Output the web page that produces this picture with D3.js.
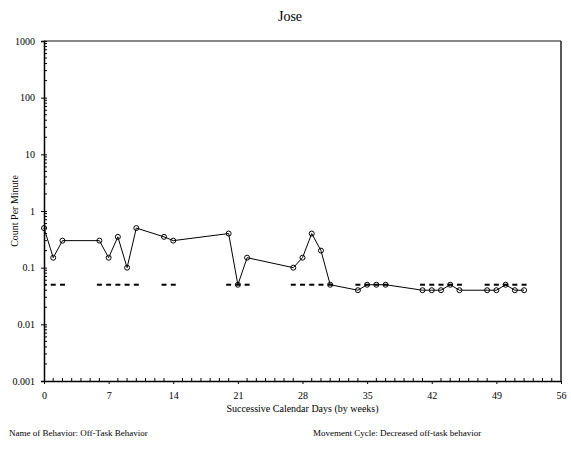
<!DOCTYPE html>
<html>
<head>
<meta charset="utf-8">
<script src="https://cdn.jsdelivr.net/npm/d3@7"></script>
<style>
  body { margin: 0; background: #fff; }
  svg text { font-family: "Liberation Serif", "DejaVu Serif", serif; fill: #000; }
</style>
</head>
<body>
<div id="chart"></div>
<script>
const width = 571;
const height = 453;
const margin = ({top: 41, right: 9, bottom: 72, left: 44});

// data
const days = [0, 1, 2, 6, 7, 8, 9, 10, 13, 14, 20, 21, 22, 27, 28, 29, 30, 31,
  34, 35, 36, 37, 41, 42, 43, 44, 45, 48, 49, 50, 51, 52];
const counts = [0.5, 0.15, 0.3, 0.3, 0.15, 0.35, 0.1, 0.5, 0.35, 0.3, 0.4, 0.05, 0.15,
  0.1, 0.15, 0.4, 0.2, 0.05, 0.04, 0.05, 0.05, 0.05, 0.04, 0.04, 0.04, 0.05, 0.04,
  0.04, 0.04, 0.05, 0.04, 0.04];
const aim = 0.05;
const xTicks = [0, 7, 14, 21, 28, 35, 42, 49, 56];
const yTicks = [0.001, 0.01, 0.1, 1, 10, 100, 1000];

const data = days.map((d, i) => ({day: d, value: counts[i]}));

const svg = d3.select("#chart").append("svg")
  .attr("width", width)
  .attr("height", height);

const x = d3.scaleLinear()
  .domain([0, 56])
  .range([margin.left, width - margin.right - 1]);

const y = d3.scaleLog()
  .domain([0.001, 1000])
  .range([height - margin.bottom, margin.top]);

svg.append("defs").append("clipPath").attr("id", "plot")
  .append("rect")
  .attr("x", margin.left).attr("y", margin.top)
  .attr("width", x(56) - margin.left).attr("height", y(0.001) - margin.top);

// frame: grey top, dark right
svg.append("line")
  .attr("x1", x(0)).attr("x2", x(56))
  .attr("y1", y(1000)).attr("y2", y(1000))
  .attr("stroke", "#888").attr("stroke-width", 2);
svg.append("line")
  .attr("x1", x(56)).attr("x2", x(56))
  .attr("y1", y(1000)).attr("y2", y(0.001))
  .attr("stroke", "#222").attr("stroke-width", 1.5);

// y axis with log minor ticks
const minorY = [];
yTicks.slice(0, -1).forEach(t => { for (let k = 2; k <= 9; k++) minorY.push(t * k); });

const yAxis = g => g
  .attr("transform", `translate(${margin.left},0)`)
  .call(d3.axisLeft(y).tickValues(yTicks).tickFormat(d => d3.format("~g")(d)).tickSize(3).tickPadding(6))
  .call(g => g.select(".domain").attr("stroke-width", 1.5))
  .call(g => g.selectAll(".tick line").attr("x2", -3).attr("x1", 3))
  .call(g => g.selectAll(".tick text").attr("font-size", 10).attr("font-family", "Liberation Serif"))
  .call(g => g.append("g").selectAll("line")
    .data(minorY)
    .join("line")
      .attr("x1", 0).attr("x2", 3)
      .attr("y1", d => y(d)).attr("y2", d => y(d))
      .attr("stroke", "#000"));

const xAxis = g => g
  .attr("transform", `translate(0,${height - margin.bottom})`)
  .call(d3.axisBottom(x).tickValues(xTicks).tickFormat(d3.format("d")).tickSize(3).tickPadding(8).tickSizeOuter(0))
  .call(g => g.select(".domain").attr("stroke-width", 1.5))
  .call(g => g.selectAll(".tick text").attr("font-size", 10).attr("font-family", "Liberation Serif"))
  .call(g => g.append("g").selectAll("line")
    .data(d3.range(1, 56).filter(d => d % 7 !== 0))
    .join("line")
      .attr("x1", d => x(d)).attr("x2", d => x(d))
      .attr("y1", 0).attr("y2", -3)
      .attr("stroke", "#000"));

svg.append("g").call(xAxis);
svg.append("g").call(yAxis);

// aim marks
svg.append("g")
  .attr("clip-path", "url(#plot)")
  .selectAll("line")
  .data(data)
  .join("line")
    .attr("x1", d => x(d.day) - 2.5)
    .attr("x2", d => x(d.day) + 2.5)
    .attr("y1", y(aim)).attr("y2", y(aim))
    .attr("stroke", "#000").attr("stroke-width", 2);

// count line
const line = d3.line()
  .x(d => x(d.day))
  .y(d => y(d.value));

svg.append("path")
  .datum(data)
  .attr("fill", "none")
  .attr("stroke", "#000")
  .attr("stroke-width", 1)
  .attr("d", line);

svg.append("g")
  .selectAll("circle")
  .data(data)
  .join("circle")
    .attr("cx", d => x(d.day))
    .attr("cy", d => y(d.value))
    .attr("r", 2.5)
    .attr("fill", "none")
    .attr("stroke", "#000")
    .attr("stroke-width", 1);

// text
svg.append("text")
  .attr("x", 290).attr("y", 21)
  .attr("text-anchor", "middle")
  .attr("font-size", 14)
  .text("Jose");

svg.append("text")
  .attr("transform", `translate(18,${(y(1000) + y(0.001)) / 2}) rotate(-90)`)
  .attr("text-anchor", "middle")
  .attr("font-size", 10)
  .text("Count Per Minute");

svg.append("text")
  .attr("x", (x(0) + x(56)) / 2).attr("y", 412)
  .attr("text-anchor", "middle")
  .attr("font-size", 10)
  .text("Successive Calendar Days (by weeks)");

svg.append("text")
  .attr("x", 9).attr("y", 436)
  .attr("font-size", 9)
  .text("Name of Behavior: Off-Task Behavior");

svg.append("text")
  .attr("x", 313).attr("y", 436)
  .attr("font-size", 9)
  .text("Movement Cycle: Decreased off-task behavior");
</script>
</body>
</html>
